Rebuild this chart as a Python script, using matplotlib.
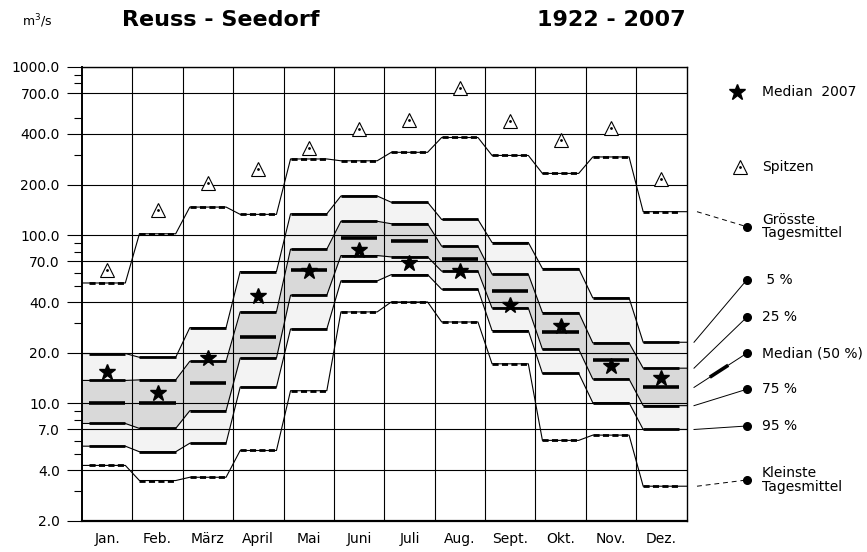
import matplotlib
matplotlib.use("Agg")
import matplotlib.pyplot as plt
import numpy as np
from matplotlib.ticker import NullFormatter

plt.rcParams['font.family'] = ['DejaVu Sans']

months = ["Jan.", "Feb.", "März", "April", "Mai", "Juni", "Juli", "Aug.", "Sept.", "Okt.", "Nov.", "Dez."]

# Abflusswerte in m3/s
groesste = [52, 102, 147, 133, 284, 277, 311, 381, 298, 233, 292, 138]
p05 = [19.8, 18.8, 28.2, 60.8, 134, 171, 157, 124, 90.5, 63.4, 42.4, 23.1]
p25 = [13.7, 13.8, 17.8, 35.0, 82.6, 121, 117, 86, 58.6, 34.7, 22.9, 16.2]
median = [10.0, 10.0, 13.3, 24.7, 61.7, 95.9, 92.9, 71.9, 46.4, 26.6, 18.1, 12.45]
p75 = [7.6, 7.1, 9.05, 18.6, 44.0, 75.7, 74.3, 61.1, 36.9, 21.0, 13.95, 9.7]
p95 = [5.57, 5.16, 5.8, 12.5, 27.7, 53.5, 58.3, 47.7, 27.1, 15.1, 10.1, 7.0]
kleinste = [4.28, 3.48, 3.64, 5.25, 11.9, 35.0, 40.1, 30.5, 17.2, 6.03, 6.48, 3.22]
median_2007 = [15.4, 11.6, 18.7, 43.5, 61.6, 81.5, 67.9, 61.6, 38.3, 28.8, 16.8, 14.2]
spitzen = [62, 141, 203, 249, 331, 430, 484, 754, 477, 367, 432, 215]

major_ticks = [2, 4, 7, 10, 20, 40, 70, 100, 200, 400, 700, 1000]
minor_ticks = [3, 5, 6, 8, 9, 30, 50, 60, 80, 90, 300, 500, 800, 900]

n = len(months)
idx = np.arange(n)
p_start = idx + 0.14
p_end = idx + 0.86


def steps(vals):
    xs = [0.0]
    ys = [vals[0]]
    for i in range(n):
        xs += [p_start[i], p_end[i]]
        ys += [vals[i], vals[i]]
    xs.append(float(n))
    ys.append(vals[-1])
    return np.array(xs), np.array(ys)


fig = plt.figure(figsize=(8.67, 5.52), dpi=100)
ax = fig.add_axes([82 / 867, 1 - 521 / 552, (686.5 - 82) / 867, (521 - 67) / 552])
ax.set_yscale("log")
ax.set_xlim(0, n)
ax.set_ylim(2, 1000)

# shaded bands
x05, y05 = steps(p05)
_, y95 = steps(p95)
_, y25 = steps(p25)
_, y75 = steps(p75)
ax.fill_between(x05, y95, y05, color="#f3f3f3", lw=0, zorder=1)
ax.fill_between(x05, y75, y25, color="#d9d9d9", lw=0, zorder=1)

# grid
for v in major_ticks:
    ax.axhline(v, color="black", lw=0.8, zorder=2)
for i in range(1, n):
    ax.axvline(i, color="black", lw=0.8, zorder=2)

# percentile curves
for vals in [p05, p25, p75, p95]:
    xs, ys = steps(vals)
    ax.plot(xs, ys, color="black", lw=0.8, zorder=3)
    ax.hlines(vals, p_start, p_end, color="black", lw=2.0, zorder=4)

for vals in [groesste, kleinste]:
    xs, ys = steps(vals)
    ax.plot(xs, ys, color="black", lw=0.8, zorder=3)
    ax.hlines(vals, p_start, p_end, color="black", lw=2.0,
              linestyles=(0, (2.2, 1.2)), zorder=4)

ax.hlines(median, p_start, p_end, color="black", lw=2.6, zorder=4)

ax.plot(idx + 0.5, median_2007, ls="none", marker="*", ms=12, color="black", zorder=5)
ax.plot(idx + 0.5, spitzen, ls="none", marker="^", ms=9.5, mfc="white", mec="black", mew=0.8, zorder=5)
ax.plot(idx + 0.5, spitzen, ls="none", marker="o", ms=1.0, color="black", zorder=6)

# axes
ax.set_yticks(major_ticks)
ax.set_yticklabels([f"{v:.1f}" for v in major_ticks])
ax.set_yticks(minor_ticks, minor=True)
ax.yaxis.set_minor_formatter(NullFormatter())
ax.tick_params(axis="y", which="major", direction="out", length=11, width=0.8, pad=5, labelsize=10)
ax.tick_params(axis="y", which="minor", direction="out", length=6, width=0.8)
ax.set_xticks(idx + 0.5)
ax.set_xticklabels(months)
ax.tick_params(axis="x", length=0, pad=8, labelsize=10)
for sp in ax.spines.values():
    sp.set_linewidth(1.0)
ax.spines["bottom"].set_linewidth(1.6)
ax.spines["left"].set_linewidth(1.4)

# titles
fig.text(22 / 867, 1 - 21 / 552, "m$^3$/s", fontsize=9, va="center", ha="left")
fig.text(122 / 867, 1 - 20 / 552, "Reuss - Seedorf", fontsize=16, fontweight="bold", va="center", ha="left")
fig.text(686 / 867, 1 - 20 / 552, "1922 - 2007", fontsize=16, fontweight="bold", va="center", ha="right")

# legend, drawn in pixel coordinates on an overlay
lg = fig.add_axes([0, 0, 1, 1], facecolor="none")
lg.set_xlim(0, 867)
lg.set_ylim(552, 0)
lg.axis("off")


def py(v):
    # pixel y (from top) of a data value on the main axes
    return 552 - ax.transData.transform((n, v))[1]


dot_x = 746.7
text_x = 762
lg.plot([737], [92], marker="*", ms=12, color="black")
lg.text(text_x, 92, "Median  2007", fontsize=10, va="center")
lg.plot([740], [167], marker="^", ms=9.5, mfc="white", mec="black", mew=0.8)
lg.plot([740], [167], marker="o", ms=1.0, color="black")
lg.text(text_x, 167, "Spitzen", fontsize=10, va="center")

legend_items = [
    (groesste[-1], 226.7, "Grösste\nTagesmittel", "dashed"),
    (p05[-1], 280, " 5 %", "solid"),
    (p25[-1], 317.3, "25 %", "solid"),
    (median[-1], 353.3, "Median (50 %)", "median"),
    (p75[-1], 389.3, "75 %", "solid"),
    (p95[-1], 426, "95 %", "solid"),
    (kleinste[-1], 480, "Kleinste\nTagesmittel", "dashed"),
]
for v, dy, label, kind in legend_items:
    y0 = py(v)
    if kind == "dashed":
        lg.plot([697, dot_x], [y0, dy], color="black", lw=0.7, dashes=(5, 4))
    else:
        lg.plot([694, dot_x], [y0, dy], color="black", lw=0.7)
    if kind == "median":
        xa, xb = 694 + 0.3 * (dot_x - 694), 694 + 0.65 * (dot_x - 694)
        ya, yb = y0 + 0.3 * (dy - y0), y0 + 0.65 * (dy - y0)
        lg.plot([xa, xb], [ya, yb], color="black", lw=2.6, solid_capstyle="butt")
    lg.plot([dot_x], [dy], marker="o", ms=5.5, color="black")
    lg.text(text_x, dy, label, fontsize=10, va="center", linespacing=0.95)

fig.savefig("out.png", dpi=100)
